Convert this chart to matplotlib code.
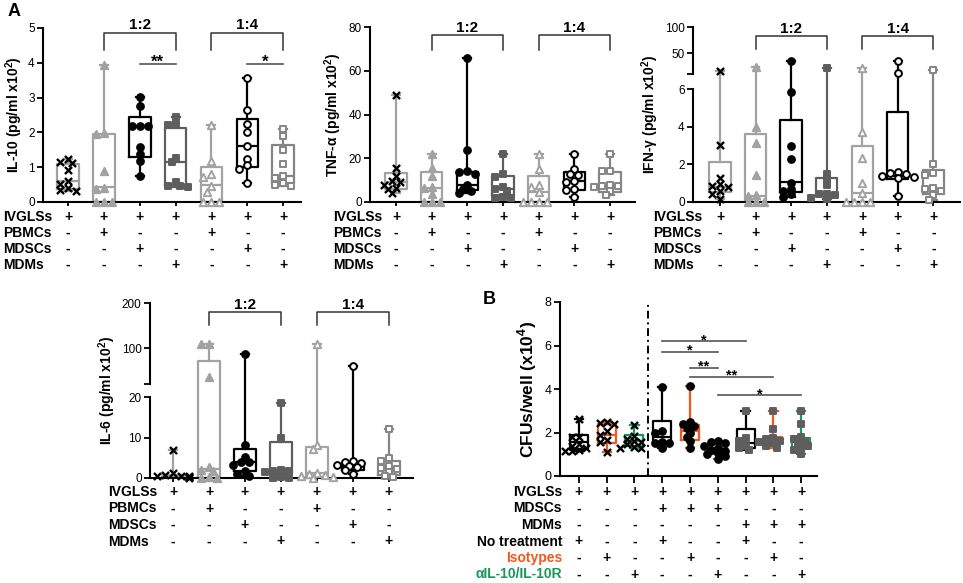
import numpy as np
import matplotlib
matplotlib.use('Agg')
import matplotlib.pyplot as plt
from matplotlib import transforms

plt.rcParams['font.family'] = ['Liberation Sans', 'DejaVu Sans']
plt.rcParams['mathtext.fontset'] = 'custom'
plt.rcParams['mathtext.rm'] = 'Liberation Sans:bold'
plt.rcParams['mathtext.bf'] = 'Liberation Sans:bold'

# ---------------- data ----------------
groups_a = ['IVGLSs', 'PBMCs', 'MDSCs', 'MDMs']
signs_a = ['+++++++',
           '-+--+--',
           '--+--+-',
           '---+--+']

il10_pts = [[1.25, 1.15, 1.13, 0.93, 0.60, 0.53, 0.41, 0.35, 0.33],
            [3.95, 1.97, 1.95, 0.88, 0.40, 0.36, 0, 0, 0],
            [3.02, 2.75, 2.17, 2.17, 2.17, 1.58, 1.38, 1.17, 0.75],
            [2.45, 2.25, 2.20, 1.27, 1.15, 0.57, 0.47, 0.45, 0.42],
            [2.20, 1.18, 0.80, 0.73, 0.45, 0.30, 0, 0, 0],
            [3.55, 2.63, 2.23, 2.00, 1.62, 1.25, 1.05, 0.95, 0.55],
            [2.10, 1.90, 1.50, 1.08, 0.75, 0.70, 0.55, 0.50, 0.45]]
il10_q1 = [0.38, 0, 1.30, 0.50, 0, 1.02, 0.55]
il10_med = [0.60, 0.43, 2.17, 1.15, 0.48, 1.60, 0.75]
il10_q3 = [1.10, 1.95, 2.43, 2.13, 1.00, 2.38, 1.65]

tnf_pts = [[49, 15.5, 12, 9.5, 9, 8, 6.5, 6, 4],
           [22, 15.5, 12, 7, 6.5, 3.5, 0, 0, 0],
           [66, 24, 14, 13.5, 13, 8, 6, 5, 4],
           [22, 13, 11.5, 7, 6, 5, 2.5, 2, 2],
           [22, 15, 8, 7, 4.5, 0, 0, 0, 0],
           [22, 15, 13, 12.5, 9.5, 9, 6, 5.5, 2.5],
           [22, 14, 14, 8, 7.5, 7.5, 7, 5, 3]]
tnf_q1 = [6, 0, 5.5, 3, 0, 5.5, 4.5]
tnf_med = [9, 6.5, 8, 6, 4.5, 9.5, 7.5]
tnf_q3 = [13.3, 13.5, 13.5, 12, 12, 13.5, 13.5]

ifn_pts = [[15.6, 3.05, 1.25, 0.95, 0.85, 0.8, 0.6, 0.4, 0.15],
           [23, 4.0, 3.15, 1.45, 0.35, 0.3, 0, 0, 0],
           [35.6, 5.85, 2.95, 2.3, 1.0, 0.7, 0.6, 0.4, 0.25],
           [20.6, 1.5, 1.2, 0.9, 0.45, 0.4, 0.35, 0.2, 0.15],
           [20.6, 3.7, 2.35, 1.0, 0.5, 0, 0, 0, 0],
           [35.6, 11.2, 1.6, 1.55, 1.5, 1.4, 1.35, 1.3, 0.3],
           [17, 2.0, 1.55, 1.45, 0.75, 0.7, 0.6, 0.35, 0.1]]
ifn_q1 = [0.55, 0, 0.55, 0.35, 0, 1.2, 0.4]
ifn_med = [0.8, 0.3, 1.05, 0.45, 0.5, 1.4, 0.7]
ifn_q3 = [2.1, 3.6, 4.35, 1.25, 3.0, 4.8, 1.7]

il6_pts = [[6.8, 1.2, 0.8, 0.6, 0.5, 0.4, 0.3, 0.2, 0.1],
           [109, 108, 36.5, 2.8, 2.0, 1.7, 0.2, 0, 0],
           [87.6, 8.2, 5.3, 4.0, 4.0, 3.2, 1.8, 0.9, 0.6],
           [18.6, 10, 2.0, 1.8, 1.8, 1.6, 0.2, 0, 0],
           [108.8, 8.2, 7.2, 1.2, 1.0, 0.8, 0.5, 0.2, 0],
           [60, 4.3, 4.0, 3.8, 3.2, 3.0, 2.6, 2.0, 1.0],
           [12, 5, 4.2, 3.0, 2.5, 2.2, 1.5, 0.5, 0.2]]
il6_q1 = [0.1, 0, 1.8, 1.0, 0.3, 2.0, 0.8]
il6_med = [0.4, 2.2, 4.0, 2.0, 1.2, 3.0, 2.5]
il6_q3 = [0.8, 71, 7.1, 8.9, 7.6, 3.8, 4.2]

groups_b = ['IVGLSs', 'MDSCs', 'MDMs', 'No treatment', 'Isotypes', 'αIL-10/IL-10R']
signs_b = ['+++++++++',
           '---+++---',
           '------+++',
           '+--+--+--',
           '-+--+--+-',
           '--+--+--+']
cfu_pts = [[2.6, 1.8, 1.8, 1.45, 1.4, 1.3, 1.2, 1.15, 1.15],
           [2.5, 2.45, 2.4, 2.05, 1.9, 1.65, 1.55, 1.1],
           [2.35, 1.85, 1.7, 1.6, 1.55, 1.45, 1.35, 1.3, 1.3],
           [4.1, 2.05, 2.0, 1.55, 1.5, 1.5, 1.3],
           [4.15, 2.5, 2.4, 2.3, 2.2, 2.0, 1.8, 1.6, 1.3],
           [1.6, 1.55, 1.5, 1.4, 1.3, 1.2, 1.15, 1.05, 1.0, 0.9, 0.8],
           [3.0, 1.75, 1.6, 1.4, 1.3, 1.2],
           [3.0, 2.15, 1.75, 1.7, 1.6, 1.55, 1.5, 1.4, 1.3],
           [3.0, 2.4, 1.8, 1.7, 1.6, 1.5, 1.4, 1.3, 1.2, 1.0]]
cfu_q1 = [1.25, 1.5, 1.4, 1.5, 1.65, 1.0, 1.3, 1.5, 1.3]
cfu_med = [1.55, 1.9, 1.6, 1.8, 2.05, 1.25, 1.5, 1.7, 1.6]
cfu_q3 = [1.9, 2.37, 1.9, 2.55, 2.35, 1.45, 2.15, 1.8, 1.75]
cfu_sig = [(4, 7, 6.19, '*'), (4, 6, 5.7, '*'), (5, 6, 4.97, '**'),
           (5, 8, 4.55, '**'), (6, 9, 3.71, '*')]

# ---------------- styles ----------------
GL = '#a2a2a2'
GM = '#858585'
GD = '#5e5e5e'
OR = '#f2581c'
GR = '#17985a'

box_a = [GL, GL, 'k', GD, GL, 'k', GM]
mk_a = [('x', 'k', 'k'), ('^', GL, GL), ('o', 'k', 'k'), ('s', GD, GD),
        ('^', 'white', GL), ('o', 'white', 'k'), ('s', 'white', GM)]
box_b = ['k', OR, GR] * 3
mk_b = [('x', 'k', 'k')] * 3 + [('o', 'k', 'k')] * 3 + [('s', GD, GD)] * 3

W, H = 963, 583
fig = plt.figure(figsize=(W / 100, H / 100), dpi=100)


def axes_px(l, t, r, b):
    return fig.add_axes([l / W, 1 - b / H, (r - l) / W, (b - t) / H])


def style(ax, ntick, lsize=8.5):
    for s in ['top', 'right']:
        ax.spines[s].set_visible(False)
    for s in ['left', 'bottom']:
        ax.spines[s].set_linewidth(1.5)
    ax.tick_params(direction='out', length=4, width=1.3, labelsize=lsize, pad=2)
    ax.set_xticks(range(1, ntick + 1))
    ax.tick_params(axis='x', labelbottom=False, length=3)


def broken(ax, vals, pix):
    ax.set_yscale('function', functions=(lambda v: np.interp(v, vals, pix),
                                         lambda p: np.interp(p, pix, vals)))
    ax.spines['left'].set_visible(False)
    tr = ax.get_yaxis_transform()
    ax.plot([0, 0], [vals[0], vals[1]], transform=tr, color='k', lw=1.5, clip_on=False)
    ax.plot([0, 0], [vals[2], vals[3]], transform=tr, color='k', lw=1.5, clip_on=False)


def swarm(ax, pos, vals, step=4.0, mind=5.5):
    p = ax.transData.transform(np.column_stack([np.full(len(vals), pos), vals]))
    placed, out = [], []
    for px, py in p:
        for k in (0, -1, 1, -2, 2, -3, 3, -4, 4):
            cx = px + k * step
            if all(np.hypot(cx - qx, py - qy) >= mind for qx, qy in placed):
                break
        placed.append((cx, py))
        out.append(cx)
    return ax.transData.inverted().transform(np.column_stack([out, p[:, 1]]))[:, 0]


def boxes(ax, pts, q1, med, q3, cols, mks, width=0.6, cap=0.22, step=4.0, mind=5.5):
    for i, vals in enumerate(pts):
        c = cols[i]
        st = [dict(med=med[i], q1=q1[i], q3=q3[i], whislo=min(vals), whishi=max(vals), fliers=[])]
        ax.bxp(st, positions=[i + 1], widths=width, capwidths=cap, showfliers=False,
               manage_ticks=False,
               boxprops=dict(color=c, lw=1.6), whiskerprops=dict(color=c, lw=1.6),
               capprops=dict(color=c, lw=1.6), medianprops=dict(color=c, lw=1.6))
        m, fc, ec = mks[i]
        xs = swarm(ax, i + 1, vals, step, mind)
        if m == 'x':
            ax.scatter(xs, vals, marker='x', s=26, color=fc, linewidths=1.7, zorder=3, clip_on=False)
        else:
            ax.scatter(xs, vals, marker=m, s=28 if m == '^' else 24, facecolor=fc,
                       edgecolor=ec, linewidths=1.4, zorder=3, clip_on=False)


def bracket(ax, x1, x2, ytop, ybot, label):
    ax.plot([x1, x1, x2, x2], [ybot, ytop, ytop, ybot], color='#333333', lw=1.1, clip_on=False)
    ax.annotate(label, xy=((x1 + x2) / 2, ytop), xytext=(0, 0.3), textcoords='offset points',
                ha='center', va='bottom', fontsize=11, fontweight='bold', annotation_clip=False)


def sig(ax, x1, x2, y, label, size=12):
    ax.plot([x1, x2], [y, y], color='#555555', lw=1.2, clip_on=False)
    ax.annotate(label, xy=((x1 + x2) / 2, y), xytext=(0, -2),
                textcoords='offset points', ha='center', va='baseline', fontsize=size,
                fontweight='bold', annotation_clip=False)


def rows(ax, names, signs, xlab, ha, y0, dy, colors=None):
    tn = transforms.blended_transform_factory(fig.transFigure, ax.transAxes)
    for r, (name, s) in enumerate(zip(names, signs)):
        off = -(y0 + dy * r) * 0.72
        col = 'k' if colors is None else colors[r]
        ax.annotate(name, xy=(xlab / W, 0), xycoords=tn, xytext=(0, off), textcoords='offset points',
                    ha=ha, va='center', fontsize=10, fontweight='bold', color=col,
                    annotation_clip=False)
        for i, ch in enumerate(s):
            ax.annotate(ch, xy=(i + 1, 0), xycoords=ax.get_xaxis_transform(), xytext=(0, off),
                        textcoords='offset points', ha='center', va='center', fontsize=10,
                        fontweight='bold', annotation_clip=False)


# ---------------- IL-10 ----------------
ax = axes_px(43, 28, 301, 202)
style(ax, 7)
ax.set_xlim(0.3, 7.5)
ax.set_ylim(0, 5)
ax.set_yticks([0, 1, 2, 3, 4, 5])
boxes(ax, il10_pts, il10_q1, il10_med, il10_q3, box_a, mk_a)
bracket(ax, 2, 4, 4.87, 4.38, '1:2')
bracket(ax, 5, 7, 4.87, 4.38, '1:4')
sig(ax, 3, 4, 3.97, '**')
sig(ax, 6, 7, 3.97, '*')
ax.set_ylabel('IL-10 (pg/ml x10$^{2}$)', fontsize=10, fontweight='bold', labelpad=2)
rows(ax, groups_a, signs_a, 3, 'left', 15, 16)
fig.text(8 / W, 1 - 12 / H, 'A', fontsize=13, fontweight='bold', va='center')

# ---------------- TNF ----------------
ax = axes_px(370, 27, 635, 202)
style(ax, 7)
ax.set_xlim(0.27, 7.7)
ax.set_ylim(0, 80)
ax.set_yticks([0, 20, 40, 60, 80])
boxes(ax, tnf_pts, tnf_q1, tnf_med, tnf_q3, box_a, mk_a)
bracket(ax, 2, 4, 76.2, 69.7, '1:2')
bracket(ax, 5, 7, 76.2, 69.7, '1:4')
ax.set_ylabel('TNF-α (pg/ml x10$^{2}$)', fontsize=10, fontweight='bold', labelpad=3)
rows(ax, groups_a, signs_a, 333, 'left', 15, 16)

# ---------------- IFN ----------------
ax = axes_px(693, 27, 960, 202)
style(ax, 7)
ax.set_xlim(0.24, 7.75)
broken(ax, [0, 6, 10, 100], [0, 113, 128, 175])
ax.set_ylim(0, 100)
ax.set_yticks([0, 2, 4, 6, 10, 50, 100])
ax.set_yticklabels(['0', '2', '4', '6', '', '50', '100'])
ax.yaxis.set_minor_locator(matplotlib.ticker.NullLocator())
boxes(ax, ifn_pts, ifn_q1, ifn_med, ifn_q3, box_a, mk_a)
bracket(ax, 2, 4, 82.5, 57.5, '1:2')
bracket(ax, 5, 7, 82.5, 57.5, '1:4')
ax.set_ylabel('IFN-γ (pg/ml x10$^{2}$)', fontsize=10, fontweight='bold', labelpad=3)
rows(ax, groups_a, signs_a, 653, 'left', 15, 16)

# ---------------- IL-6 ----------------
ax = axes_px(150, 303, 413, 478)
style(ax, 7)
ax.set_xlim(0.36, 7.67)
broken(ax, [0, 20, 20.01, 200], [0, 81, 94, 175])
ax.set_ylim(0, 200)
ax.set_yticks([0, 10, 20, 20.01, 100, 200])
ax.set_yticklabels(['0', '10', '20', '', '100', '200'])
ax.yaxis.set_minor_locator(matplotlib.ticker.NullLocator())
boxes(ax, il6_pts, il6_q1, il6_med, il6_q3, box_a, mk_a)
bracket(ax, 2, 4, 180, 151, '1:2')
bracket(ax, 5, 7, 180, 151, '1:4')
ax.set_ylabel('IL-6 (pg/ml x10$^{2}$)', fontsize=10, fontweight='bold', labelpad=3)
rows(ax, groups_a, signs_a, 108, 'left', 14, 16.5)

# ---------------- B ----------------
ax = axes_px(560, 302, 817, 476)
style(ax, 9, lsize=9)
ax.tick_params(axis='x', length=5)
ax.set_xlim(0.32, 9.57)
ax.set_ylim(0, 8)
ax.set_yticks([0, 2, 4, 6, 8])
ax.axvline(3.5, color='k', lw=1.4, ls=(0, (4, 2, 1, 2)))
boxes(ax, cfu_pts, cfu_q1, cfu_med, cfu_q3, box_b, mk_b, width=0.65, cap=0.3, step=3.5, mind=5.0)
for a, b, y, lab in cfu_sig:
    sig(ax, a, b, y, lab, size=10.5)
ax.set_ylabel('CFUs/well (x10$^{4}$)', fontsize=12.5, fontweight='bold', labelpad=4)
rows(ax, groups_b, signs_b, 562, 'right', 16, 16.5, colors=['k', 'k', 'k', 'k', OR, GR])
fig.text(483 / W, 1 - 300 / H, 'B', fontsize=13, fontweight='bold', va='center')

fig.savefig('out.png', dpi=100)
